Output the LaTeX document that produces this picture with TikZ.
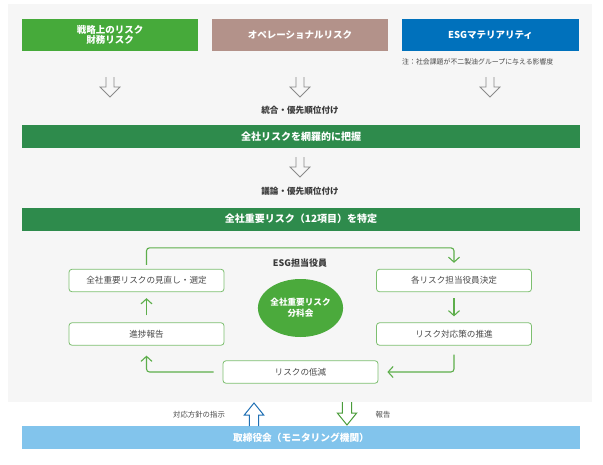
\documentclass[tikz,border=0pt]{standalone}
\usepackage{fontspec}
\setmainfont{Noto Sans CJK JP}
\usetikzlibrary{arrows.meta,shapes.geometric}
\definecolor{bggray}{HTML}{F6F6F6}
\definecolor{topgreen}{HTML}{46AA3A}
\definecolor{topbrown}{HTML}{B3928A}
\definecolor{topblue}{HTML}{0071BC}
\definecolor{bargreen}{HTML}{2E8B4C}
\definecolor{barblue}{HTML}{82C4EC}
\definecolor{cycgreen}{HTML}{5DAE4B}
\definecolor{boxline}{HTML}{7DBF70}
\definecolor{txtgray}{HTML}{4A4A4A}
\definecolor{arrgray}{HTML}{8A8A8A}
\definecolor{arrblue}{HTML}{2070B4}
\definecolor{arrgreen}{HTML}{4A9C3A}
\definecolor{ellgreen}{HTML}{4BAA3C}
\tikzset{
  topbox/.style={minimum width=176pt, minimum height=32pt, inner sep=0pt, text=white, align=center, font=\fontsize{9.5}{12}\selectfont\bfseries},
  bigbar/.style={fill=bargreen, minimum width=558pt, minimum height=23pt, inner sep=0pt, text=white, font=\fontsize{10}{12}\selectfont\bfseries},
  cycbox/.style={draw=boxline, line width=0.8pt, fill=white, rounded corners=3pt, minimum width=155pt, minimum height=22.5pt, inner sep=0pt, text=txtgray, font=\fontsize{8.6}{10}\selectfont},
  steplabel/.style={text=txtgray!80!black, font=\fontsize{8.6}{10}\selectfont\bfseries, inner sep=0pt},
  smalllabel/.style={text=txtgray, font=\fontsize{7.4}{9}\selectfont, inner sep=0pt},
  cyc/.style={draw=cycgreen, line width=1.1pt, rounded corners=3pt, -{Straight Barb[length=5pt,width=11pt,line width=1.1pt]}},
  openarrow/.pic={\draw[pic actions, line width=0.8pt, line join=miter] (-4,0) -- (-4,10) -- (-10,10) -- (0,20) -- (10,10) -- (4,10) -- (4,0);},
  openarrowB/.pic={\draw[pic actions, line width=1pt, line join=miter] (-4.7,0) -- (-4.7,11) -- (-9.7,11) -- (0,23) -- (9.7,11) -- (4.7,11) -- (4.7,0);}
}
\begin{document}
\begin{tikzpicture}[x=1pt, y=-1pt]
\useasboundingbox (0,0) rectangle (603,464);
\fill[white] (0,0) rectangle (603,464);
\fill[bggray] (8,4) rectangle (592,402);

% top boxes
\node[topbox, fill=topgreen] (t1) at (110,35) {戦略上のリスク\\[-1.5pt]財務リスク};
\node[topbox, fill=topbrown] (t2) at (300,35) {オペレーショナルリスク};
\node[topbox, fill=topblue, minimum width=177pt] (t3) at (490.5,35) {ESGマテリアリティ};
\node[smalllabel, font=\fontsize{6.9}{8}\selectfont, anchor=west] (note) at (402,62) {注：社会課題が不二製油グループに与える影響度};

\pic[draw=arrgray] at (110,77) {openarrow};
\pic[draw=arrgray] at (300,77) {openarrow};
\pic[draw=arrgray] at (490,77) {openarrow};

\node[steplabel] (l1) at (300,110) {統合・優先順位付け};
\node[bigbar] (b1bar) at (301,136.5) {全社リスクを網羅的に把握};
\pic[draw=arrgray] at (300,157) {openarrow};
\node[steplabel] (l2) at (300,191) {議論・優先順位付け};
\node[bigbar] (b2bar) at (301,219) {全社重要リスク（12項目）を特定};

% cycle
\node[cycbox] (c1) at (146.5,280.5) {全社重要リスクの見直し・選定};
\node[cycbox] (c2) at (454,280.5) {各リスク担当役員決定};
\node[cycbox] (c3) at (146.5,334) {進捗報告};
\node[cycbox] (c4) at (454,334) {リスク対応策の推進};
\node[cycbox] (c5) at (300.5,372) {リスクの低減};

\node[text=txtgray!80!black, font=\fontsize{9}{10}\selectfont\bfseries, inner sep=0pt] (esg) at (300,263) {ESG担当役員};
\node[ellipse, fill=ellgreen, minimum width=85pt, minimum height=58pt, inner sep=0pt, text=white, align=center, font=\fontsize{8.6}{11}\selectfont\bfseries] (ell) at (300.5,308) {全社重要リスク\\分科会};

\draw[cyc, shorten <=4pt, shorten >=6pt] (c1.north) -- ++(0,-21) -| (c2.north);
\draw[cyc, shorten <=6pt, shorten >=6pt] (c2.south) -- (c4.north);
\draw[cyc, shorten <=9pt, shorten >=9pt] (c4.south) |- (c5.east);
\draw[cyc, shorten <=9pt, shorten >=10pt] (c5.west) -| (c3.south);
\draw[cyc, shorten <=7pt, shorten >=6pt] (c3.north) -- (c1.south);

% bottom
\node[fill=barblue, minimum width=558pt, minimum height=23pt, inner sep=0pt, text=white, font=\fontsize{9.7}{12}\selectfont\bfseries] (board) at (301,437.5) {取締役会（モニタリング機関）};
\pic[draw=arrblue, rotate=180] at (254,426) {openarrowB};
\pic[draw=arrgreen] at (347,402) {openarrowB};
\node[smalllabel] (lb1) at (199,415) {対応方針の指示};
\node[smalllabel] (lb2) at (383,415) {報告};
\end{tikzpicture}
\end{document}
